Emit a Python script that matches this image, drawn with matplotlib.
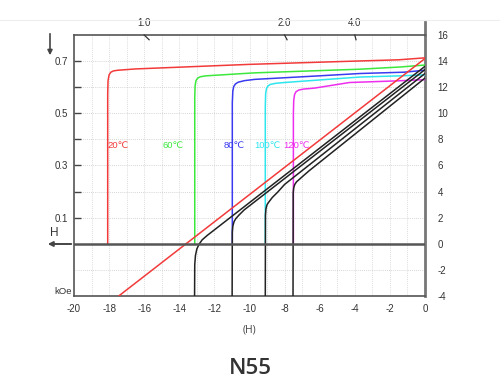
import matplotlib
matplotlib.use("Agg")
import matplotlib.pyplot as plt
from matplotlib.lines import Line2D
import numpy as np

# ---- data (H in kOe, B in kG) ----
B20_H = [-17.45, 0.0]
B20_B = [-4.0, 14.2]

J20_H = [-18.08, -18.08, -18.06, -18.0, -17.9, -17.75, -17.5, -16.5, -10.0, -4.0, -1.5, -0.5, 0.0]
J20_B = [0.0, 11.5, 12.5, 12.95, 13.15, 13.25, 13.3, 13.4, 13.75, 14.0, 14.1, 14.2, 14.25]

J60_H = [-13.12, -13.12, -13.1, -13.05, -12.95, -12.8, -12.5, -9.7, -3.7, -1.4, 0.0]
J60_B = [0.0, 11.2, 12.1, 12.5, 12.7, 12.8, 12.87, 13.1, 13.38, 13.55, 13.7]

J80_H = [-10.98, -10.98, -10.95, -10.9, -10.8, -10.65, -10.3, -9.7, -6.3, -3.7, -1.2, 0.0]
J80_B = [0.0, 10.8, 11.7, 12.05, 12.25, 12.38, 12.5, 12.6, 12.85, 13.05, 13.15, 13.3]

J100_H = [-9.1, -9.1, -9.08, -9.03, -8.95, -8.8, -8.5, -8.0, -3.7, -1.2, 0.0]
J100_B = [0.0, 10.5, 11.5, 11.9, 12.1, 12.22, 12.3, 12.36, 12.78, 12.88, 12.95]

J120_H = [-7.5, -7.5, -7.48, -7.43, -7.35, -7.2, -6.9, -6.3, -4.3, -1.5, 0.0]
J120_B = [0.0, 10.0, 11.0, 11.45, 11.65, 11.78, 11.86, 11.93, 12.36, 12.49, 12.58]

B60_H = [-13.13, -13.12, -13.08, -13.0, -12.88, -12.7, -12.4, 0.0]
B60_B = [-4.0, -1.6, -0.9, -0.4, -0.05, 0.3, 0.65, 13.6]

B80_H = [-10.99, -10.98, -10.95, -10.88, -10.78, -10.6, -10.3, 0.0]
B80_B = [-4.0, 0.9, 1.35, 1.7, 1.93, 2.2, 2.6, 13.35]

B100_H = [-9.1, -9.09, -9.06, -9.0, -8.9, -8.7, -8.4, -8.0, 0.0]
B100_B = [-4.0, 2.2, 2.7, 3.0, 3.2, 3.55, 3.95, 4.55, 13.05]

B120_H = [-7.52, -7.51, -7.48, -7.42, -7.32, -7.15, -6.9, -6.6, 0.0]
B120_B = [-4.0, 3.9, 4.3, 4.55, 4.75, 4.95, 5.25, 5.6, 12.7]

temp_labels = ["20℃", "60℃", "80℃", "100℃", "120℃"]
temp_label_H = [-18.1, -14.95, -11.5, -9.7, -8.1]
colors = ["#f23a3a", "#3ce83c", "#3a3af0", "#2ee6ee", "#ee2eee"]

x_ticks = [-20, -18, -16, -14, -12, -10, -8, -6, -4, -2, 0]
right_ticks = [-4, -2, 0, 2, 4, 6, 8, 10, 12, 14, 16]
left_tick_vals = [2, 4, 6, 8, 10, 12, 14]
left_tick_labels = ["0.1", "", "0.3", "", "0.5", "", "0.7"]
pc_values = [1.0, 2.0, 4.0]
pc_labels = ["1.0", "2.0", "4.0"]

# ---- figure ----
fig = plt.figure(figsize=(5.0, 3.86), dpi=100)
ax = fig.add_axes([0.148, 0.2332, 0.702, 0.6761])
ax.set_xlim(-20, 0)
ax.set_ylim(-4, 16)

font = ["Liberation Sans", "DejaVu Sans", "Noto Sans CJK SC"]
tc = "#333333"

# grid
for h in np.arange(-19, 0, 1):
    ax.axvline(h, color="#d0d0d0", lw=0.6, ls=(0, (1, 1.5)), zorder=0)
for b in np.arange(-2, 16, 2):
    ax.axhline(b, color="#c8c8c8", lw=0.6, ls=(0, (1, 1.5)), zorder=0)

lw = 1.1
J_H = [J20_H, J60_H, J80_H, J100_H, J120_H]
J_B = [J20_B, J60_B, J80_B, J100_B, J120_B]
for hh, bb, c in zip(J_H, J_B, colors):
    ax.plot(hh, bb, color=c, lw=lw, zorder=3, solid_joinstyle="round")
ax.plot(B20_H, B20_B, color=colors[0], lw=lw, zorder=3)
for hh, bb in [(B60_H, B60_B), (B80_H, B80_B), (B100_H, B100_B), (B120_H, B120_B)]:
    ax.plot(hh, bb, color="#222222", lw=lw, zorder=3, solid_joinstyle="round")

# zero (H) axis line
ax.axhline(0, color="#555555", lw=1.8, zorder=4)

for lab, h, c in zip(temp_labels, temp_label_H, colors):
    ax.text(h, 7.5, lab, color=c, fontsize=6.8, family=font, ha="left", va="center", zorder=5)

# spines
for s in ["top", "left", "bottom"]:
    ax.spines[s].set_color("#555555")
    ax.spines[s].set_linewidth(1.2)
ax.spines["right"].set_color("#777777")
ax.spines["right"].set_linewidth(2.0)
ax.add_line(Line2D([1, 1], [1, 1.05], transform=ax.transAxes, color="#777777", lw=2.0, clip_on=False))

# bottom ticks
ax.set_xticks(x_ticks)
ax.set_xticklabels([str(v) for v in x_ticks], fontsize=7, family=font, color=tc)
ax.tick_params(axis="x", length=0, pad=6)

# left ticks (J in T)
ax.set_yticks(left_tick_vals)
ax.set_yticklabels(left_tick_labels, fontsize=7, family=font, color=tc)
ax.tick_params(axis="y", direction="in", length=5, width=1.0, color="#444444", pad=4)

# right axis (kG)
ax2 = ax.twinx()
ax2.set_ylim(-4, 16)
ax2.set_yticks(right_ticks)
ax2.set_yticklabels([str(v) for v in right_ticks], fontsize=7, family=font, color=tc)
ax2.tick_params(axis="y", length=0, pad=9)
for s in ax2.spines.values():
    s.set_visible(False)

# permeance coefficient marks on top
for pc, lab in zip(pc_values, pc_labels):
    h0 = -16.0 / pc
    d = 0.28 / pc
    ax.add_line(Line2D([h0, h0 + d], [16, 16 - d * pc * 1.3], color="#333333", lw=0.9, clip_on=False, zorder=6))
    ax.text(h0, 16.5, lab, fontsize=7, family=font, color=tc, ha="center", va="bottom")

ax.set_xlabel("(H)", fontsize=7.5, family="Open Sans", color="#444444", labelpad=7)

# H arrow and labels outside axes
ax.annotate("", xy=(45, 142), xycoords="figure pixels", xytext=(74, 142), textcoords="figure pixels",
            arrowprops=dict(arrowstyle="-|>", color="#444444", lw=1.4, mutation_scale=7))
fig.text(54 / 500, 1 - 233 / 386, "H", fontsize=8.5, family=font, color=tc, ha="center", va="center")
fig.text(63 / 500, 1 - 292 / 386, "kOe", fontsize=6.8, family=font, color=tc, ha="center", va="center")
ax.annotate("", xy=(50, 386 - 58), xycoords="figure pixels", xytext=(50, 386 - 31), textcoords="figure pixels",
            arrowprops=dict(arrowstyle="-|>", color="#444444", lw=1.2, mutation_scale=7))
fig.add_artist(Line2D([0, 1], [1 - 20 / 386, 1 - 20 / 386], transform=fig.transFigure, color="#eeeeee", lw=0.8))

fig.text(0.5, 1 - 368 / 386, "N55", fontsize=16, family="Open Sans", fontweight="semibold",
         color="#333333", ha="center", va="center")

fig.savefig("out.png", dpi=100)
